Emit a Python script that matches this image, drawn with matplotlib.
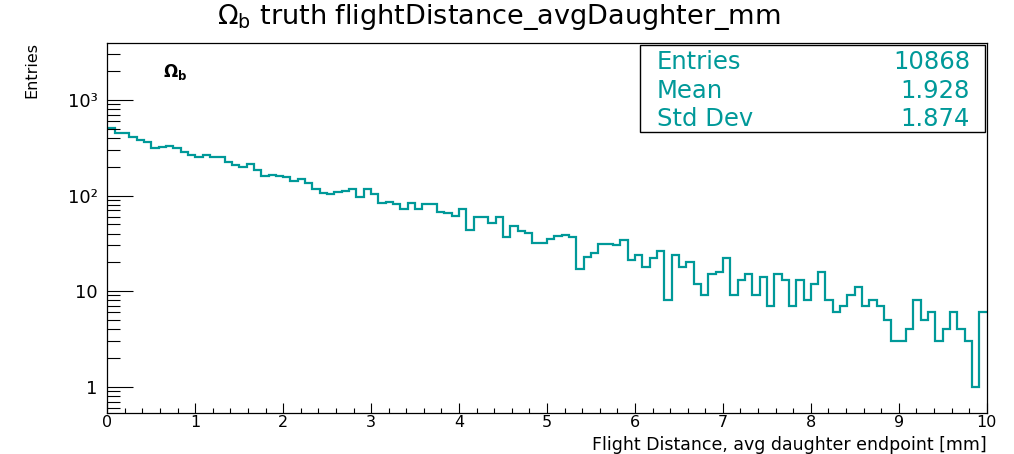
import numpy as np
import matplotlib
matplotlib.use('Agg')
import matplotlib.pyplot as plt
from matplotlib.ticker import FixedLocator, LogLocator, MultipleLocator, NullFormatter

# Histogramm-Daten, 120 Bins von 0 bis 10 mm
x_min, x_max, n_bins = 0.0, 10.0, 120
counts = [
    510, 448, 448, 412, 381, 360, 312, 322, 329, 312,
    287, 265, 251, 267, 251, 255, 226, 208, 197, 212,
    185, 160, 165, 160, 155, 141, 149, 134, 116, 107,
    103, 110, 111, 116, 97, 117, 103, 83, 86, 81,
    73, 83, 73, 81, 81, 68, 65, 61, 72, 44,
    60, 60, 52, 60, 37, 48, 43, 41, 32, 32,
    35, 38, 39, 37, 17, 23, 25, 31, 31, 30,
    34, 21, 24, 18, 22, 26, 8, 24, 18, 20,
    12, 9, 15, 16, 22, 9, 13, 15, 9, 14,
    7, 15, 13, 7, 13, 8, 12, 16, 8, 6,
    7, 9, 11, 7, 8, 7, 5, 3, 3, 4,
    8, 5, 6, 3, 4, 6, 4, 3, 1, 6,
]
y_ticks = [1, 10, 100, 1000]
y_tick_labels = ['1', '10', '10²', '10³']
stats_names = ['Entries', 'Mean', 'Std Dev']
stats_values = ['10868', '1.928', '1.874']

teal = '#009999'
edges = np.linspace(x_min, x_max, n_bins + 1)

fig = plt.figure(figsize=(10.14, 4.54), dpi=100)
ax = fig.add_axes([0.1058, 0.0896, 0.8673, 0.8146])

ax.stairs(counts, edges, baseline=None, color=teal, lw=1.6)

ax.set_yscale('log')
ax.set_xlim(x_min, x_max)
ax.set_ylim(0.527, 3890)

# Achsen im ROOT-Stil
ax.yaxis.set_major_locator(FixedLocator(y_ticks))
ax.set_yticklabels(y_tick_labels)
ax.yaxis.set_minor_locator(LogLocator(base=10, subs=range(2, 10), numticks=20))
ax.yaxis.set_minor_formatter(NullFormatter())
ax.xaxis.set_major_locator(MultipleLocator(1))
ax.xaxis.set_minor_locator(MultipleLocator(0.2))

ax.tick_params(axis='y', which='major', direction='in', length=18.5, width=0.8, pad=7, labelsize=13)
ax.tick_params(axis='y', which='minor', direction='in', length=9.3, width=0.8)
ax.tick_params(axis='x', which='major', direction='in', length=7, width=0.8, pad=1.5, labelsize=11.5)
ax.tick_params(axis='x', which='minor', direction='in', length=3.6, width=0.8)
for s in ax.spines.values():
    s.set_linewidth(0.9)

# Titel und Beschriftungen
fig.text(0.492, 0.962, r'$\Omega_{\rm b}$ truth flightDistance_avgDaughter_mm',
         ha='center', va='center', fontsize=19.5)
fig.text(0.9734, 0.001, 'Flight Distance, avg daughter endpoint [mm]',
         ha='right', va='bottom', fontsize=12.5)
fig.text(0.031, 0.908, 'Entries', rotation=90, ha='center', va='top', fontsize=11.5)
ax.text(0.063, 0.923, r'$\mathbf{\Omega_{b}}$', transform=ax.transAxes,
        ha='left', va='center', fontsize=12)

# Statistik-Box
box = plt.Rectangle((0.6312, 0.7093), 0.3402, 0.1916, transform=fig.transFigure,
                    facecolor='white', edgecolor='black', lw=1.0, zorder=5)
fig.add_artist(box)
row_y = [0.8634, 0.7996, 0.7379]
for name, val, yy in zip(stats_names, stats_values, row_y):
    fig.text(0.648, yy, name, ha='left', va='center', fontsize=17.5, color=teal, zorder=6)
    fig.text(0.9566, yy, val, ha='right', va='center', fontsize=17.5, color=teal, zorder=6)

fig.savefig('out.png', dpi=100)
